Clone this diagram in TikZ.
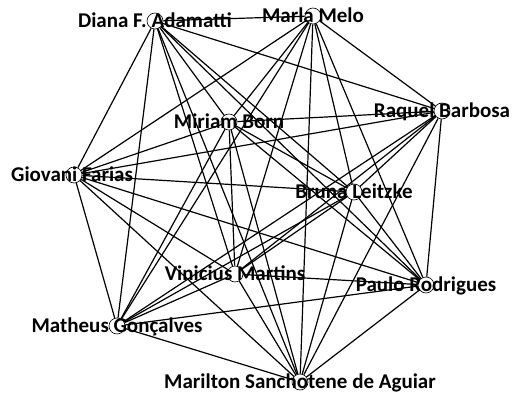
\documentclass[tikz,border=0pt]{standalone}
\usepackage{fontspec}
\setmainfont{Carlito}
\usetikzlibrary{backgrounds}
\begin{document}
\begin{tikzpicture}[x=1pt,y=-1pt,
  vertex/.style={circle,draw=black,fill=white,line width=0.6pt,minimum size=16pt,inner sep=0pt},
  lbl/.style={font=\bfseries\fontsize{21}{21}\selectfont,inner sep=0pt,text height=13.5pt,text depth=0pt,anchor=center},
  link/.style={draw=black,line width=1.2pt}]
\useasboundingbox (0,0) rectangle (512,396);
% people
\foreach \n/\x/\y in {diana/155/21, marla/313/16, raquel/442/111, miriam/229/122,
  giovani/74/175, bruna/354/192, vinicius/235/274, paulo/426/285,
  matheus/117/326, marilton/300/382}
  \node[vertex] (\n) at (\x,\y) {};
% names
\node[lbl] at (diana) {Diana F. Adamatti};
\node[lbl] at (marla) {Marla Melo};
\node[lbl] at (raquel) {Raquel Barbosa};
\node[lbl] at (miriam) {Miriam Born};
\node[lbl] at ([xshift=-2pt]giovani) {Giovani Farias};
\node[lbl] at (bruna) {Bruna Leitzke};
\node[lbl] at (vinicius) {Vinicius Martins};
\node[lbl] at (paulo) {Paulo Rodrigues};
\node[lbl] at (matheus) {Matheus Gonçalves};
\node[lbl] at (marilton) {Marilton Sanchotene de Aguiar};
% every pair is linked
\begin{pgfonlayer}{background}
\foreach \a [count=\i] in {diana,marla,raquel,miriam,giovani,bruna,vinicius,paulo,matheus,marilton}{
  \foreach \b [count=\j] in {diana,marla,raquel,miriam,giovani,bruna,vinicius,paulo,matheus,marilton}{
    \ifnum\j>\i \draw[link] (\a) -- (\b); \fi
  }
}
\end{pgfonlayer}
\end{tikzpicture}
\end{document}
